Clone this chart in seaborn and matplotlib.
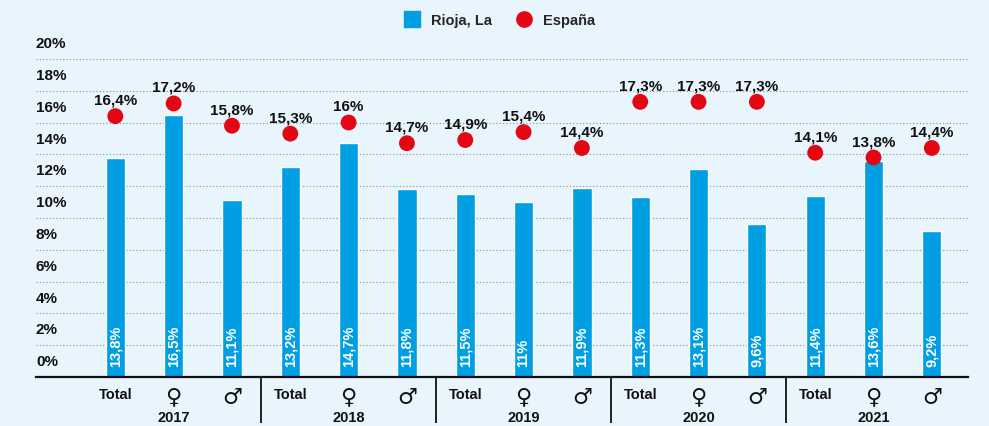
import pandas as pd
import matplotlib
matplotlib.use('Agg')
import matplotlib.pyplot as plt
from matplotlib.lines import Line2D
import seaborn as sns

# Data
years = ['2017', '2018', '2019', '2020', '2021']
groups = ['Total', '♀', '♂']
rioja = [13.8, 16.5, 11.1, 13.2, 14.7, 11.8, 11.5, 11.0, 11.9, 11.3, 13.1, 9.6, 11.4, 13.6, 9.2]
espana = [16.4, 17.2, 15.8, 15.3, 16.0, 14.7, 14.9, 15.4, 14.4, 17.3, 17.3, 17.3, 14.1, 13.8, 14.4]
y_ticks = list(range(0, 21, 2))

BG = '#e8f5fd'
BLUE = '#009ee2'
RED = '#e30613'


def fmt(v):
    s = ('%.1f' % v).rstrip('0').rstrip('.')
    return s.replace('.', ',') + '%'


df = pd.DataFrame({
    'pos': range(len(rioja)),
    'label': groups * len(years),
    'rioja': rioja,
    'espana': espana,
})

sns.set_style('white')
plt.rcParams['font.family'] = ['Liberation Sans', 'DejaVu Sans']

fig = plt.figure(figsize=(9.89, 4.27), dpi=100, facecolor=BG)
ax = fig.add_axes([36 / 989, 49 / 427, 932 / 989, 334 / 427])
ax.set_facecolor(BG)

sns.barplot(data=df, x='pos', y='rioja', color=BLUE, width=0.33, saturation=1,
            errorbar=None, ax=ax, zorder=2)
sns.scatterplot(data=df, x='pos', y='espana', color=RED, s=130, edgecolor='none',
                ax=ax, zorder=3, legend=False)

ax.set_xlim(-1.36, 14.62)
ax.set_ylim(0, 21)

# grid + y labels sitting above each line
ax.set_yticks(y_ticks)
ax.grid(axis='y', linestyle=(0, (1, 2)), color='#8a8a8a', lw=0.8, zorder=0)
ax.tick_params(axis='y', length=0, labelleft=False)
for v in y_ticks:
    ax.annotate(f'{v}%', (0, v), xycoords=ax.get_yaxis_transform(),
                xytext=(0, 8.5), textcoords='offset points',
                ha='left', va='baseline', fontsize=11, fontweight='bold', color='#111111')

for sp in ['top', 'right', 'left']:
    ax.spines[sp].set_visible(False)
ax.spines['bottom'].set_linewidth(1.6)
ax.spines['bottom'].set_color('#111111')

# value labels
for i, v in enumerate(espana):
    ax.annotate(fmt(v), (i, v), xytext=(0, 9), textcoords='offset points',
                ha='center', va='baseline', fontsize=11, fontweight='bold', color='#111111')
for i, v in enumerate(rioja):
    ax.annotate(fmt(v), (i, 0), xytext=(0, 8), textcoords='offset points',
                rotation=90, ha='center', va='bottom', fontsize=10.5,
                fontweight='bold', color='white', zorder=4)

# x labels
ax.set_xticks(range(len(rioja)))
ax.set_xticklabels(df['label'])
ax.tick_params(axis='x', length=0, pad=7)
ax.set_xlabel('')
ax.set_ylabel('')
for lbl in ax.get_xticklabels():
    if lbl.get_text() == 'Total':
        lbl.set_fontsize(10.5)
        lbl.set_fontweight('bold')
    else:
        lbl.set_fontsize(16)
        lbl.set_family('DejaVu Sans')
    lbl.set_color('#111111')

for g, yr in enumerate(years):
    ax.text(g * 3 + 1, -2.5, yr, ha='center', va='center', fontsize=10.5,
            fontweight='bold', color='#111111', clip_on=False)
for g in range(1, len(years)):
    ax.vlines(g * 3 - 0.5, -2.9, 0, color='#111111', lw=1.3, clip_on=False)

handles = [Line2D([], [], marker='s', color=BLUE, ls='none', markersize=11),
           Line2D([], [], marker='o', color=RED, ls='none', markersize=11)]
fig.legend(handles, ['Rioja, La', 'España'], loc='center', bbox_to_anchor=(0.502, 0.95),
           ncol=2, frameon=False, prop={'weight': 'bold', 'size': 10.5},
           handletextpad=0.3, columnspacing=1.2)

fig.savefig('out.png', dpi=100, facecolor=BG)
